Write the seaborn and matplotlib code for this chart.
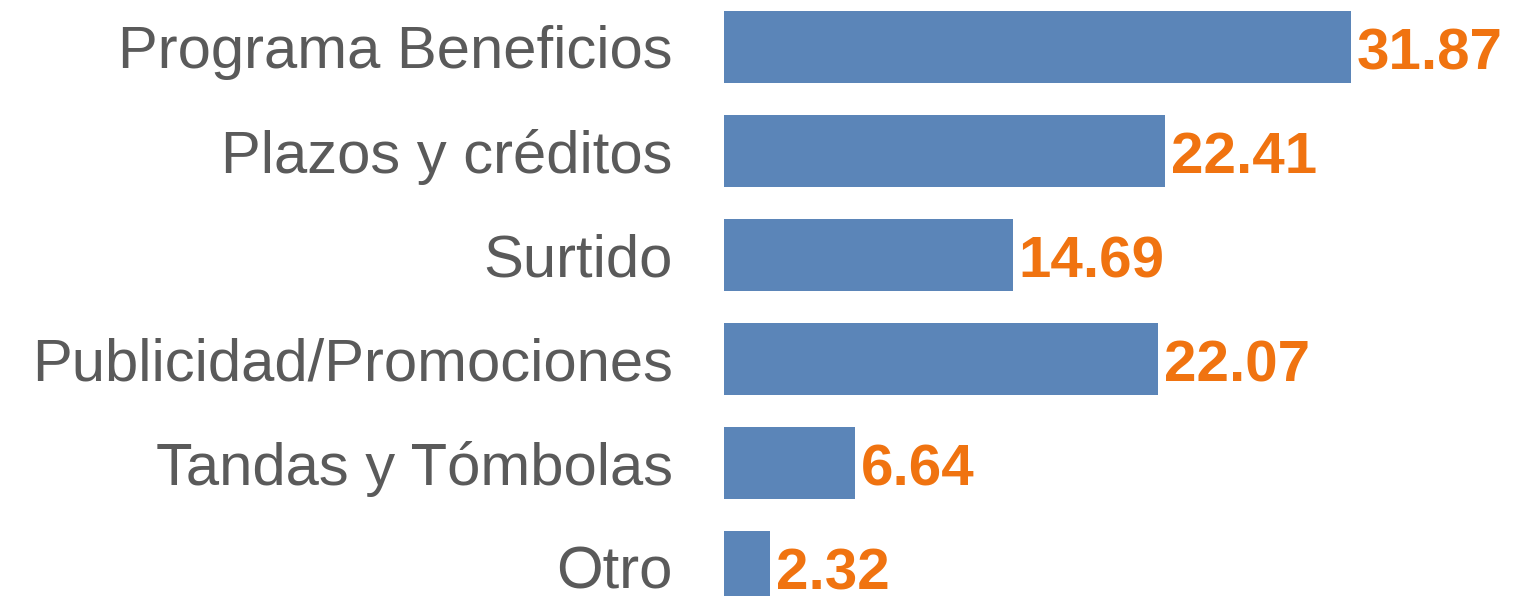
import pandas as pd
import matplotlib
matplotlib.use("Agg")
import matplotlib.pyplot as plt
import seaborn as sns

categories = ["Programa Beneficios", "Plazos y créditos", "Surtido",
              "Publicidad/Promociones", "Tandas y Tómbolas", "Otro"]
values = [31.87, 22.41, 14.69, 22.07, 6.64, 2.32]

bar_color = "#5B85B8"
label_color = "#F07310"
text_color = "#5A5A5A"

sns.set_theme(style="white")
plt.rcParams['font.family'] = ['Liberation Sans', 'DejaVu Sans']

df = pd.DataFrame({"categoria": categories, "valor": values})

fig = plt.figure(figsize=(15.16, 5.96), dpi=100)
ax = fig.add_axes([724 / 1516, 0, 1 - 724 / 1516, 1])

sns.barplot(data=df, x="valor", y="categoria", order=categories,
            color=bar_color, saturation=1, width=0.7, linewidth=0, ax=ax)

ax.set_xlim(0, (1516 - 724) / 19.67)
ax.set_ylim((596 - 47) / 104, -47 / 104)

# numbers sit a little lower than the bar centre in the original
for i, v in enumerate(values):
    ax.text(v + 0.3, i + 0.07, f"{v:.2f}", va="center", ha="left",
            fontsize=42, fontweight="bold", color=label_color)

ax.set_xlabel("")
ax.set_ylabel("")
ax.set_xticks([])
ax.tick_params(axis="y", length=0, pad=37, labelsize=43, labelcolor=text_color)
sns.despine(ax=ax, left=True, bottom=True, top=True, right=True)

fig.savefig("out.png", dpi=100)
